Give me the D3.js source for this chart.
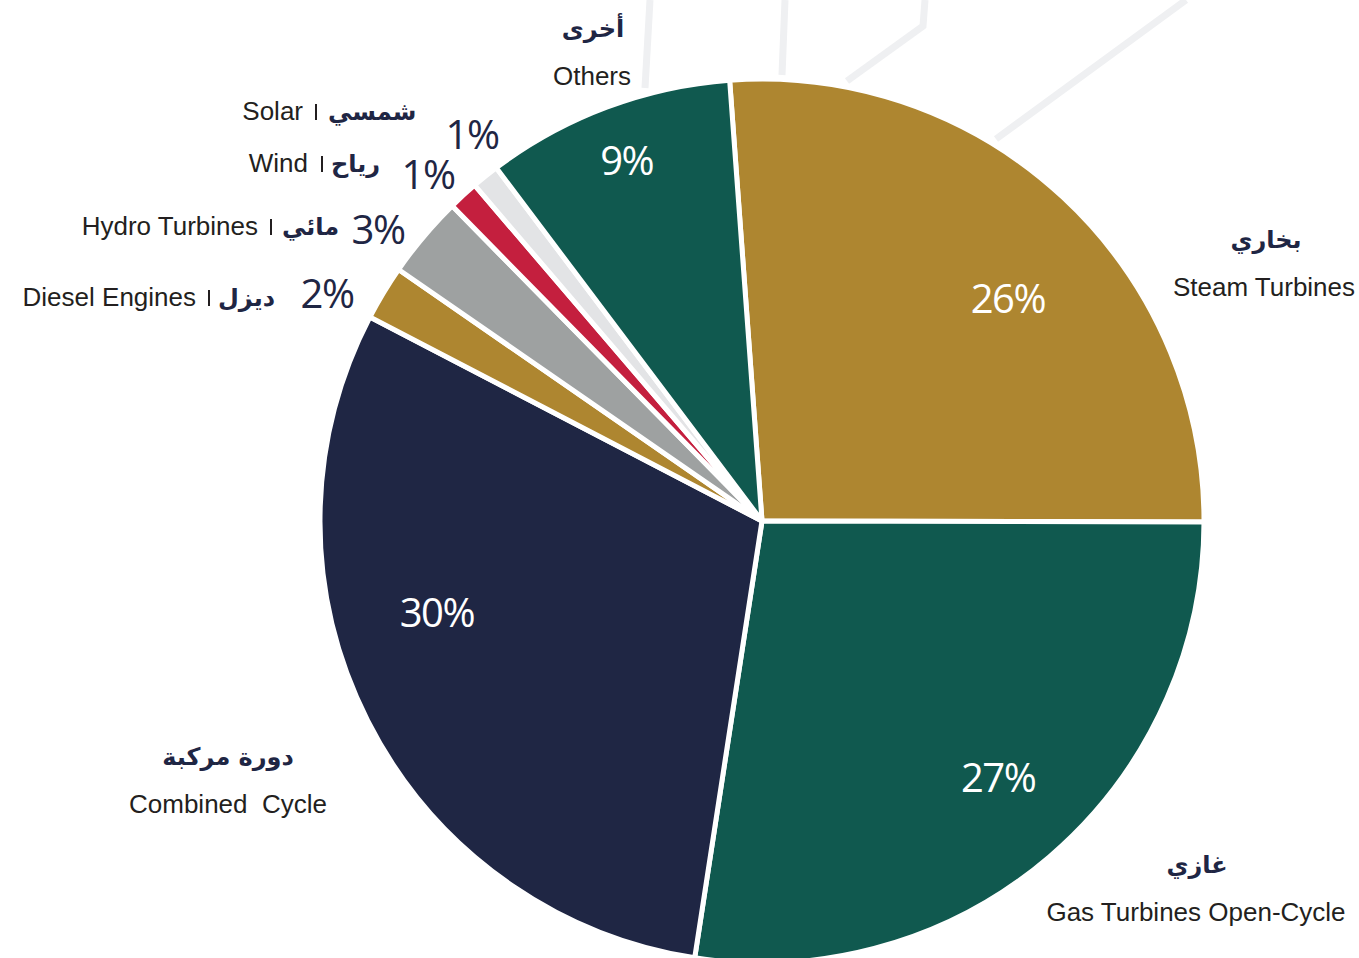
<!DOCTYPE html>
<html>
<head>
<meta charset="utf-8">
<script src="https://cdn.jsdelivr.net/npm/d3@7"></script>
<style>
  html, body { margin: 0; padding: 0; background: #fff; }
  svg { display: block; }
  .en { font-family: "Liberation Sans", Arial, sans-serif; font-size: 26px; fill: #231f20; white-space: pre; }
  .ar { font-family: "DejaVu Sans", sans-serif; font-weight: bold; font-size: 24px; fill: #1f2644; }
  .pct { font-family: "Open Sans", sans-serif; font-size: 40px; letter-spacing: -1.5px; }
</style>
</head>
<body>
<div class="gen-pie"></div>
<script>
const WIDTH = 1359,
    HEIGHT = 958,
    RADIUS = 442,
    CX = 762,
    CY = 521;

// generation capacity by technology (share, %)
const categories = ["Steam Turbines", "Gas Turbines Open-Cycle", "Combined  Cycle", "Diesel Engines", "Hydro Turbines", "Wind", "Solar", "Others"];
const arabicNames = ["بخاري", "غازي", "دورة مركبة", "ديزل", "مائي", "رياح", "شمسي", "أخرى"];
const shares = [26.2, 27.4, 30.2, 2.0, 3.0, 1.1, 1.0, 9.1];
const shareLabels = ["26%", "27%", "30%", "2%", "3%", "1%", "1%", "9%"];
const colors = ["#ae8630", "#10594f", "#1f2644", "#ae8630", "#9ea1a1", "#c41f3e", "#e3e4e6", "#10594f"];

// decorative background strokes at the top
const decoLines = [
    [[650, 0], [645, 88]],
    [[785, 0], [782, 75]],
    [[925, 0], [923, 26], [847, 81]],
    [[1186, 0], [996, 139]]
];

// where each label goes (inside = white % on slice, else text block)
const labelLayout = [
    { pctInside: true, pctR: 331, pctShift: 5, name: [1266, 248, 1264, 296, "middle"] },
    { pctInside: true, pctR: 349, pctShift: -2, name: [1197, 873, 1196, 921, "middle"] },
    { pctInside: true, pctR: 338, pctShift: 11, name: [228, 765, 228, 813, "middle"] },
    { pctInside: false, pct: [327, 308], line: [196, 306, 209, 218] },
    { pctInside: false, pct: [378, 244], line: [258, 235, 271, 282] },
    { pctInside: false, pct: [428, 189], line: [308, 172, 322, 331] },
    { pctInside: false, pct: [472, 149], line: [303, 120, 316, 328] },
    { pctInside: true, pctR: 385, pctShift: 0, name: [593, 37, 592, 85, "middle"] }
];

function createSVG() {
    return d3.select(".gen-pie")
        .append("svg")
        .attr("width", WIDTH)
        .attr("height", HEIGHT);
}

function drawChart() {
    const svg = createSVG();

    const line = d3.line();
    svg.append("g")
        .selectAll("path")
        .data(decoLines)
        .join("path")
        .attr("d", d => line(d))
        .attr("fill", "none")
        .attr("stroke", "#eff0f2")
        .attr("stroke-width", 7);

    const start = -4.2 * Math.PI / 180;
    const pie = d3.pie().sort(null).startAngle(start).endAngle(start + 2 * Math.PI);
    const arcs = pie(shares);
    const arc = d3.arc().innerRadius(0).outerRadius(RADIUS);

    const g = svg.append("g").attr("transform", `translate(${CX}, ${CY})`);

    g.selectAll("path.slice")
        .data(arcs)
        .join("path")
        .attr("class", "slice")
        .attr("d", arc)
        .attr("fill", (d, i) => colors[i])
        .attr("stroke", "#fff")
        .attr("stroke-width", 5)
        .attr("stroke-linejoin", "round");

    // percentages inside the big slices
    arcs.forEach((d, i) => {
        const lay = labelLayout[i];
        if (lay.pctInside) {
            const mid = (d.startAngle + d.endAngle) / 2 + lay.pctShift * Math.PI / 180;
            const x = Math.sin(mid) * lay.pctR;
            const y = -Math.cos(mid) * lay.pctR;
            g.append("text")
                .attr("class", "pct")
                .attr("x", x)
                .attr("y", y)
                .attr("dy", "0.35em")
                .attr("text-anchor", "middle")
                .style("fill", "#fff")
                .text(shareLabels[i]);

            const n = lay.name;
            svg.append("text")
                .attr("class", "ar")
                .attr("x", n[0])
                .attr("y", n[1])
                .attr("text-anchor", n[4])
                .text(arabicNames[i]);
            svg.append("text")
                .attr("class", "en")
                .attr("x", n[2])
                .attr("y", n[3])
                .attr("text-anchor", n[4])
                .text(categories[i]);
        } else {
            svg.append("text")
                .attr("class", "pct")
                .attr("x", lay.pct[0])
                .attr("y", lay.pct[1])
                .attr("text-anchor", "middle")
                .style("fill", "#1f2644")
                .text(shareLabels[i]);

            const l = lay.line;
            svg.append("text")
                .attr("class", "en")
                .attr("x", l[0])
                .attr("y", l[1])
                .attr("text-anchor", "end")
                .text(categories[i]);
            svg.append("rect")
                .attr("x", l[2] - 1)
                .attr("y", l[1] - 16)
                .attr("width", 2)
                .attr("height", 16)
                .attr("fill", "#231f20");
            svg.append("text")
                .attr("class", "ar")
                .attr("x", l[3])
                .attr("y", l[1])
                .attr("text-anchor", "start")
                .text(arabicNames[i]);
        }
    });
}

drawChart();
</script>
</body>
</html>
